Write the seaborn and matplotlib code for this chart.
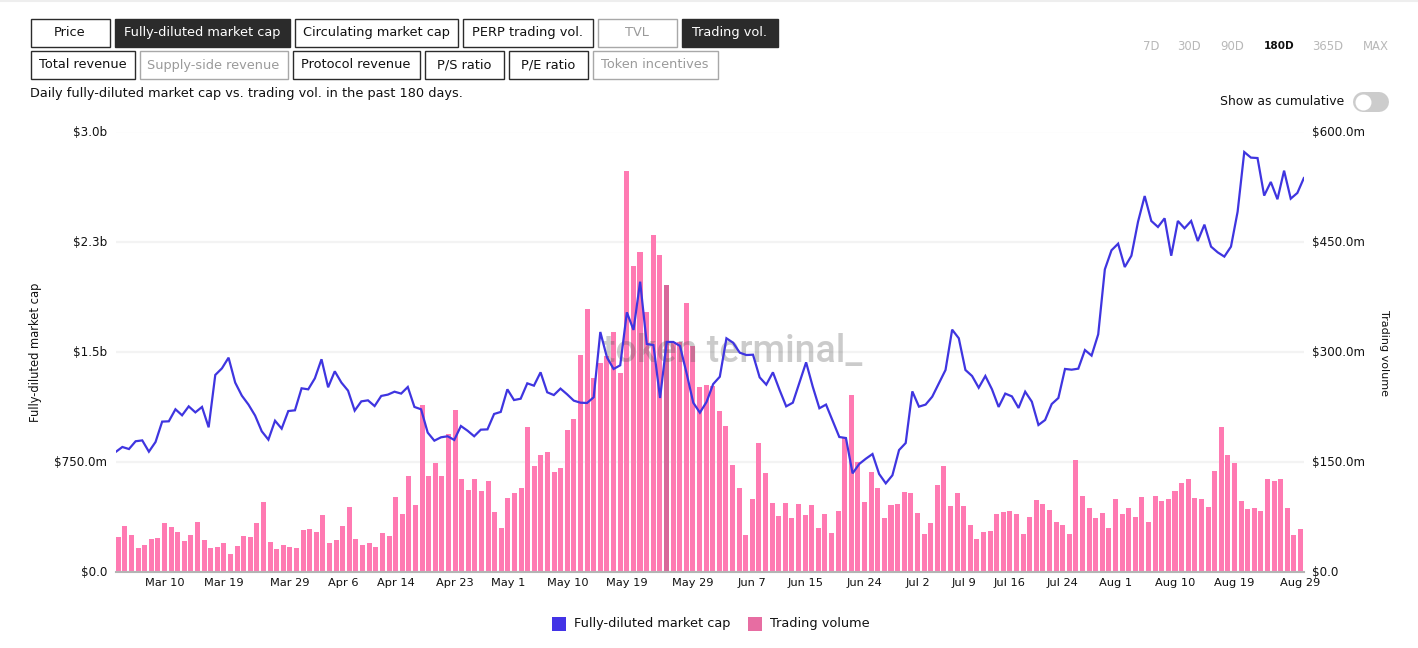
import matplotlib
matplotlib.use("Agg")
import matplotlib.pyplot as plt
from matplotlib.patches import Rectangle
from matplotlib.transforms import ScaledTranslation
import numpy as np
import seaborn as sns

sns.set_theme(style="white")
plt.rcParams["font.family"] = ["DejaVu Sans"]

market_cap_b = [
    .815,.849,.835,.888,.894,.817,.883,1.022,1.024,1.106,1.065,1.126,1.085,1.122,.983,1.340,1.385,1.458,1.288,1.199,
    1.138,1.063,.956,.899,1.028,.974,1.094,1.099,1.249,1.242,1.317,1.447,1.256,1.365,1.288,1.233,1.097,1.160,1.167,1.128,
    1.197,1.206,1.226,1.213,1.258,1.122,1.106,.947,.892,.915,.922,.897,.992,.960,.922,.967,.969,1.074,1.088,1.242,
    1.169,1.178,1.283,1.267,1.358,1.222,1.203,1.247,1.208,1.165,1.151,1.149,1.188,1.633,1.460,1.381,1.406,1.767,1.647,1.976,
    1.551,1.544,1.183,1.565,1.565,1.538,1.351,1.151,1.083,1.156,1.278,1.328,1.590,1.560,1.492,1.476,1.478,1.324,1.274,1.358,
    1.238,1.126,1.151,1.288,1.426,1.260,1.113,1.138,1.028,.917,.910,.669,.733,.769,.801,.665,.601,.656,.828,.876,
    1.228,1.124,1.138,1.192,1.283,1.374,1.649,1.590,1.374,1.333,1.253,1.333,1.242,1.122,1.213,1.194,1.115,1.226,1.158,.999,
    1.033,1.142,1.183,1.381,1.376,1.383,1.510,1.472,1.617,2.060,2.190,2.235,2.076,2.153,2.385,2.560,2.390,2.349,2.408,2.153,
    2.390,2.340,2.390,2.253,2.365,2.215,2.176,2.147,2.215,2.453,2.860,2.822,2.819,2.563,2.656,2.538,2.733,2.542,2.581,2.685,
]
trading_volume_m = [
    47.3,62.7,49.5,32.3,35.5,44.5,45.9,66.4,60.4,54.1,41.8,50,67.3,42.3,32.7,33.6,38.6,24.1,35,48.6,
    47.3,66.4,94.5,40,30.9,35.9,33.6,32.7,56.8,57.7,54.1,77.7,39.1,43.6,61.4,87.3,44.5,36.8,39.1,33.6,
    52.7,48.2,101.4,78.6,130,90.9,226.8,130,147.7,130.4,187.3,220.4,126.4,111.4,125.9,110,123.6,81.8,60,100.4,
    107.3,114.1,196.8,144.1,158.6,163.2,135.9,141.4,193.2,208.2,295.4,358.1,264.5,284.5,293.2,327.2,270.4,546.3,416.8,435.9,
    354.5,458.6,431.3,390.9,313.6,313.2,366.8,307.7,251.3,254.1,253.2,219.1,198.2,145.9,114.1,50,99.5,175.4,135,93.2,
    75.9,93.2,72.7,91.4,76.8,90.4,59.5,78.6,52.7,82.3,181.8,240.4,149.1,95,135.9,114.5,72.7,90.4,91.8,108.2,
    106.8,79.5,51.8,66.4,118.2,144.1,90,107.3,89.5,63.2,44.5,53.6,55,78.6,81.8,82.3,78.6,51.4,74.5,97.3,
    92.3,83.6,67.7,63.2,51.4,152.3,102.7,86.8,72.7,80.4,60,99.5,78.6,86.8,74.1,101.8,67.3,103.6,95.9,98.6,
    109.5,120.9,126.4,100.4,99.1,88.6,137.7,196.4,159.1,147.3,95.9,85.4,86.8,82.3,126.4,123.6,126.4,86.4,49.1,58.2,
]
day = list(range(len(market_cap_b)))

x_tick_days = [7, 16, 26, 34, 42, 51, 59, 68, 77, 87, 96, 104, 113, 121, 128, 135, 143, 151, 160, 169, 179]
x_tick_labels = ["Mar 10", "Mar 19", "Mar 29", "Apr 6", "Apr 14", "Apr 23", "May 1", "May 10", "May 19", "May 29",
                 "Jun 7", "Jun 15", "Jun 24", "Jul 2", "Jul 9", "Jul 16", "Jul 24", "Aug 1", "Aug 10", "Aug 19", "Aug 29"]
left_ticks = [0, 0.75, 1.5, 2.25, 3.0]
left_labels = ["$0.0", "$750.0m", "$1.5b", "$2.3b", "$3.0b"]
right_ticks = [0, 150, 300, 450, 600]
right_labels = ["$0.0", "$150.0m", "$300.0m", "$450.0m", "$600.0m"]

row1 = ["Price", "Fully-diluted market cap", "Circulating market cap", "PERP trading vol.", "TVL", "Trading vol."]
row2 = ["Total revenue", "Supply-side revenue", "Protocol revenue", "P/S ratio", "P/E ratio", "Token incentives"]
active = {"Fully-diluted market cap", "Trading vol."}
disabled = {"TVL", "Supply-side revenue", "Token incentives"}
ranges = ["7D", "30D", "90D", "180D", "365D", "MAX"]

LINE = "#3f35e0"
BAR = "#ff7ab2"
BAR_HOVER = "#d8679a"
INK = "#111111"
FS = 9.25
TICK_FS = 8.6
XTICK_FS = 8.2

W, H = 1418, 648
fig = plt.figure(figsize=(W / 100, H / 100), dpi=100, facecolor="white")

chrome = fig.add_axes([0, 0, 1, 1], zorder=0)
chrome.set_xlim(0, W)
chrome.set_ylim(H, 0)
chrome.axis("off")

rect = [115.7 / W, (H - 571.5) / H, (1304 - 115.7) / W, 440 / H]
ax_bar = fig.add_axes(rect, zorder=1)
ax_line = fig.add_axes(rect, zorder=2)

# bars
sns.barplot(x=day, y=trading_volume_m, native_scale=True, width=0.76, color=BAR, saturation=1,
            linewidth=0, ax=ax_bar)
ax_bar.patches[83].set_facecolor(BAR_HOVER)
ax_bar.set_xlim(-0.38, 179.53)
ax_bar.set_ylim(0, 600)
ax_bar.set_yticks(right_ticks, right_labels, fontsize=TICK_FS, color=INK)
ax_bar.yaxis.tick_right()
ax_bar.set_xticks(x_tick_days, x_tick_labels, fontsize=XTICK_FS, color=INK)
ax_bar.grid(axis="y", color="#f3f3f3", lw=1.6)
ax_bar.set_axisbelow(True)
ax_bar.tick_params(axis="y", length=0, pad=6)
ax_bar.tick_params(axis="x", length=0, pad=5)
for s in ["top", "left", "right"]:
    ax_bar.spines[s].set_visible(False)
ax_bar.spines["bottom"].set_color("#b4b4b4")
ax_bar.spines["bottom"].set_linewidth(1.5)
ax_bar.set_ylabel("")

# line
sns.lineplot(x=day, y=market_cap_b, color=LINE, lw=1.6, ax=ax_line, errorbar=None, solid_joinstyle="miter")
ax_line.set_xlim(0, 179)
ax_line.set_ylim(0, 3.0)
ax_line.patch.set_visible(False)
ax_line.set_yticks(left_ticks, left_labels, fontsize=TICK_FS, color=INK)
ax_line.set_xticks([])
ax_line.tick_params(axis="y", length=0, pad=6)
ax_line.grid(False)
for s in ax_line.spines.values():
    s.set_visible(False)

nudge = ScaledTranslation(0, 0.6 / 100, fig.dpi_scale_trans)
for lab in list(ax_line.get_yticklabels()) + list(ax_bar.get_yticklabels()):
    lab.set_transform(lab.get_transform() + nudge)

# axis titles
chrome.text(36, 352, "Fully-diluted market cap", rotation=90, ha="center", va="center", fontsize=8.3, color=INK)
chrome.text(1384, 353, "Trading volume", rotation=270, ha="center", va="center", fontsize=8.0, color=INK)

# watermark
ax_bar.text(733, 352, "token terminal_", transform=chrome.transData, ha="center", va="center",
            family="Roboto", fontsize=27, fontweight="medium", color="#555555", alpha=0.3, zorder=6)


def draw_row(labels, edges, y0, y1):
    for label, (x0, x1) in zip(labels, edges):
        if label in active:
            face, edge, txt = "#2b2b2b", "#2b2b2b", "white"
        elif label in disabled:
            face, edge, txt = "white", "#a8a8a8", "#9a9a9a"
        else:
            face, edge, txt = "white", "#2b2b2b", INK
        chrome.add_patch(Rectangle((x0 + .5, y0), x1 - x0 - 1, y1 - y0, facecolor=face, edgecolor=edge, lw=1))
        chrome.text((x0 + x1) / 2, (y0 + y1) / 2, label, ha="center", va="center", fontsize=FS, color=txt)


draw_row(row1, [(30, 110), (114, 290), (294, 458), (462, 593), (597, 677), (681, 778)], 18.5, 46.5)
draw_row(row2, [(30, 135), (139, 288), (292, 420), (424, 504), (508, 588), (592, 718)], 51, 79)
chrome.text(30, 93, "Daily fully-diluted market cap vs. trading vol. in the past 180 days.", ha="left", va="center",
            fontsize=FS, color=INK)
chrome.plot([0, W], [1, 1], color="#eeeeee", lw=1.5)

for label, cx in zip(ranges, [1151, 1189, 1232, 1279, 1328, 1376]):
    sel = label == "180D"
    chrome.text(cx, 46, label, ha="center", va="center", fontsize=7.6 if sel else 8.4,
                color=INK if sel else "#b8b8b8", fontweight="bold" if sel else "normal")

chrome.text(1344, 101.5, "Show as cumulative", ha="right", va="center", fontsize=8.9, color=INK)
chrome.plot([1363, 1379], [102, 102], color="#cccccc", lw=14.4, solid_capstyle="round")
chrome.plot([1363], [102], "o", ms=11.5, mfc="white", mec="none")

# legend
chrome.add_patch(Rectangle((552, 617), 14, 14, facecolor="#4333e6", lw=0))
chrome.text(574, 623.5, "Fully-diluted market cap", ha="left", va="center", fontsize=FS, color=INK)
chrome.add_patch(Rectangle((748, 617), 14, 14, facecolor="#e76da2", lw=0))
chrome.text(770, 623.5, "Trading volume", ha="left", va="center", fontsize=FS, color=INK)

fig.savefig("out.png", dpi=100, facecolor="white")
